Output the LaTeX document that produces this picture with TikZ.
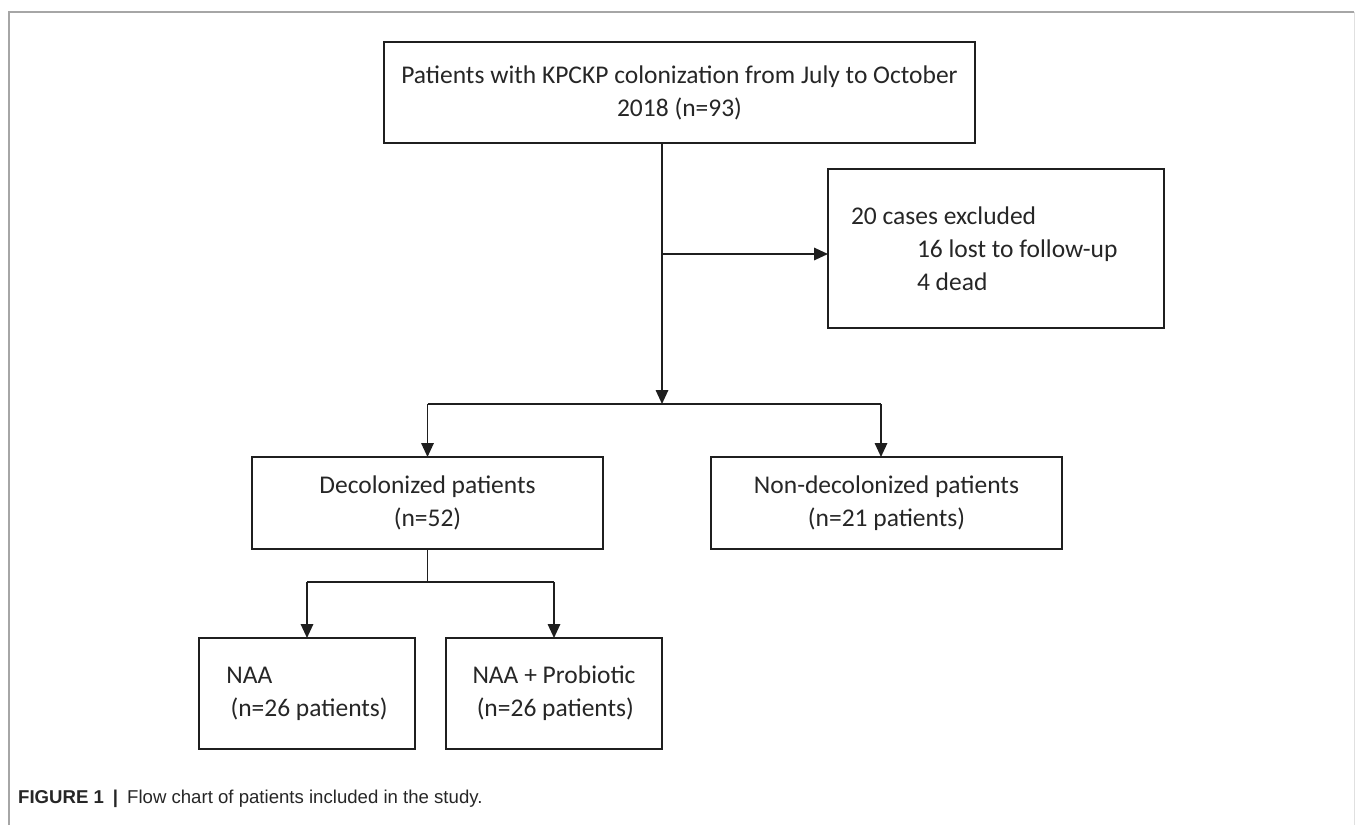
\documentclass[tikz,border=0pt]{standalone}
\usepackage{fontspec}
\setmainfont{Carlito}
\newfontfamily\capfont{Liberation Sans}
\usetikzlibrary{arrows.meta,calc}
\tikzset{
 box/.style={draw=black!88, line width=1.7pt, anchor=north west, inner sep=0pt, outer sep=0pt,
   font=\fontsize{25.5}{33}\selectfont, text=black!85},
 conn/.style={draw=black!88, line width=1.7pt},
 arr/.style={conn, -{Triangle[length=14pt,width=12.5pt]}},
}
\begin{document}
\begin{tikzpicture}[x=1pt,y=-1pt]
\useasboundingbox (0,0) rectangle (1355,825);
% frame
\draw[black!35, line width=1.5pt] (9,825) -- (9,12) -- (1354,12);
\draw[black!12, line width=1pt] (1354,12) -- (1354,825);
% boxes
\node[box, minimum width=591pt, minimum height=101pt, align=center] (top) at (384,42)
  {Patients with KPCKP colonization from July to October\\2018 (n=93)};
\node[box, minimum width=336pt, minimum height=159pt, text width=290pt, inner xsep=23pt, align=flush left] (excl) at (828,169)
  {20 cases excluded\\\hspace*{66pt}16 lost to follow-up\\\hspace*{66pt}4 dead};
\node[box, minimum width=351pt, minimum height=92pt, align=center] (dec) at (252,457)
  {Decolonized patients\\(n=52)};
\node[box, minimum width=351pt, minimum height=92pt, align=center] (non) at (711,457)
  {Non-decolonized patients\\(n=21 patients)};
\node[box, minimum width=216pt, minimum height=111pt, align=left] (naa) at (199,638)
  {NAA\\\,(n=26 patients)};
\node[box, minimum width=216pt, minimum height=111pt, align=left] (pro) at (446,638)
  {NAA + Probiotic\\\,(n=26 patients)};
% connectors
\coordinate (j1) at (662,254);
\coordinate (j2) at (662,404);
\coordinate (j3) at ($(dec.south)+(0,33)$);
\coordinate (jr) at (881,404);
\draw[arr] (top.south -| j1) -- (j2);
\draw[arr] (j1) -- (excl.west |- j1);
\draw[conn] (dec.north |- j2) -- (jr);
\draw[arr] (dec.north |- j2) -- (dec.north);
\draw[arr] (jr) -- (jr |- non.north);
\draw[conn] (dec.south) -- (j3);
\draw[conn] (naa.north |- j3) -- (pro.north |- j3);
\draw[arr] (naa.north |- j3) -- (naa.north);
\draw[arr] (pro.north |- j3) -- (pro.north);
% caption
\node[anchor=base west, inner sep=0pt, font=\capfont\fontsize{18.6}{22}\selectfont, text=black!85] (cap) at (18,803)
  {\textbf{FIGURE 1}\hspace{9pt}\textbf{|}\hspace{9pt}Flow chart of patients included in the study.};
\end{tikzpicture}
\end{document}
